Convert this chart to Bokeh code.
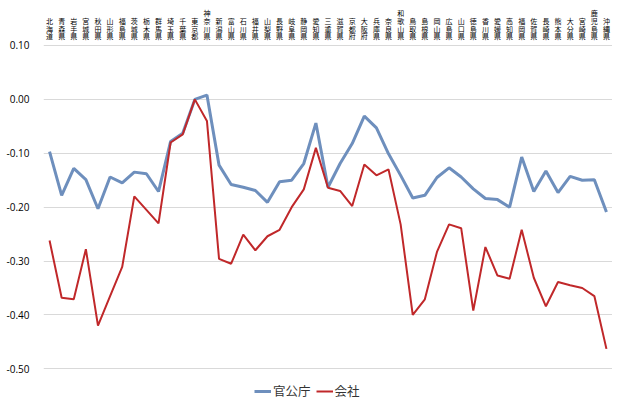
from bokeh.plotting import figure
from bokeh.models import FactorRange, Range1d, FixedTicker, PrintfTickFormatter, Legend, LegendItem, ColumnDataSource
from bokeh.core.properties import value
from bokeh.embed import file_html
from bokeh.resources import INLINE

prefectures = ["北海道", "青森県", "岩手県", "宮城県", "秋田県", "山形県", "福島県", "茨城県", "栃木県", "群馬県",
               "埼玉県", "千葉県", "東京都", "神奈川県", "新潟県", "富山県", "石川県", "福井県", "山梨県", "長野県",
               "岐阜県", "静岡県", "愛知県", "三重県", "滋賀県", "京都府", "大阪府", "兵庫県", "奈良県", "和歌山県",
               "鳥取県", "島根県", "岡山県", "広島県", "山口県", "徳島県", "香川県", "愛媛県", "高知県", "福岡県",
               "佐賀県", "長崎県", "熊本県", "大分県", "宮崎県", "鹿児島県", "沖縄県"]

kankocho = [-0.097, -0.178, -0.128, -0.149, -0.203, -0.144, -0.155, -0.135, -0.138, -0.171,
            -0.078, -0.063, 0.000, 0.008, -0.122, -0.158, -0.163, -0.169, -0.191, -0.153,
            -0.150, -0.119, -0.044, -0.163, -0.119, -0.082, -0.031, -0.053, -0.101, -0.141,
            -0.183, -0.178, -0.145, -0.127, -0.144, -0.166, -0.184, -0.186, -0.200, -0.107,
            -0.171, -0.133, -0.173, -0.143, -0.150, -0.149, -0.209]

kaisha = [-0.262, -0.368, -0.371, -0.278, -0.420, -0.365, -0.311, -0.180, -0.205, -0.230,
          -0.080, -0.065, 0.000, -0.040, -0.296, -0.305, -0.251, -0.280, -0.254, -0.242,
          -0.200, -0.167, -0.090, -0.164, -0.170, -0.198, -0.121, -0.141, -0.130, -0.232,
          -0.400, -0.371, -0.283, -0.232, -0.239, -0.392, -0.274, -0.327, -0.333, -0.242,
          -0.331, -0.384, -0.339, -0.345, -0.350, -0.365, -0.463]

y_ticks = [-0.5, -0.4, -0.3, -0.2, -0.1, 0.0, 0.1]
series_names = ["官公庁", "会社"]

p = figure(width=612, height=400, output_backend="svg", toolbar_location=None,
           x_range=FactorRange(*prefectures, range_padding=0),
           y_range=Range1d(-0.5588, 0.1835),
           min_border_left=43, min_border_right=0, min_border_top=0, min_border_bottom=0)
p.xaxis.visible = False
p.outline_line_color = None
p.xgrid.grid_line_color = None
p.ygrid.ticker = FixedTicker(ticks=y_ticks)
p.ygrid.grid_line_color = "#d9d9d9"
p.ygrid.grid_line_width = 1

ax = p.yaxis[0]
ax.ticker = FixedTicker(ticks=y_ticks)
ax.formatter = PrintfTickFormatter(format="%.2f")
ax.axis_line_color = None
ax.major_tick_line_color = None
ax.minor_tick_line_color = None
ax.major_tick_out = 0
ax.major_tick_in = 0
ax.minor_tick_out = 0
ax.minor_tick_in = 0
ax.major_label_standoff = 14
ax.major_label_text_font = "Open Sans"
ax.major_label_text_font_size = "10px"
ax.major_label_text_color = "#000000"

r1 = p.line(prefectures, kankocho, line_color="#6e8fbd", line_width=3)
r2 = p.line(prefectures, kaisha, line_color="#c0282a", line_width=2)

# vertical (stacked) category labels: one text per character
cx, cy, ct, coff = [], [], [], []
char_pitch = 7.7
for name in prefectures:
    n = len(name)
    for j, ch in enumerate(name):
        cx.append(name)
        cy.append(0.1167)
        ct.append(ch)
        coff.append(-(n - 1 - j) * char_pitch)
labels_src = ColumnDataSource(dict(x=cx, y=cy, t=ct, off=coff))
p.text(x="x", y="y", text="t", y_offset="off", source=labels_src, text_align="center",
       text_baseline="middle", text_font=value("Noto Sans CJK JP"), text_font_size="7px",
       text_color="#000000")

legend = Legend(items=[LegendItem(label=series_names[0], renderers=[r1]),
                       LegendItem(label=series_names[1], renderers=[r2])],
                orientation="horizontal", location=(211, 0),
                label_text_font="Noto Sans CJK JP", label_text_font_size="12.5px",
                label_text_color="#333333",
                glyph_width=17, glyph_height=14, label_height=14, label_standoff=2,
                spacing=5, padding=0, margin=0, border_line_color=None,
                background_fill_alpha=0)
p.add_layout(legend)

open("out.html", "w").write(file_html(p, INLINE))
